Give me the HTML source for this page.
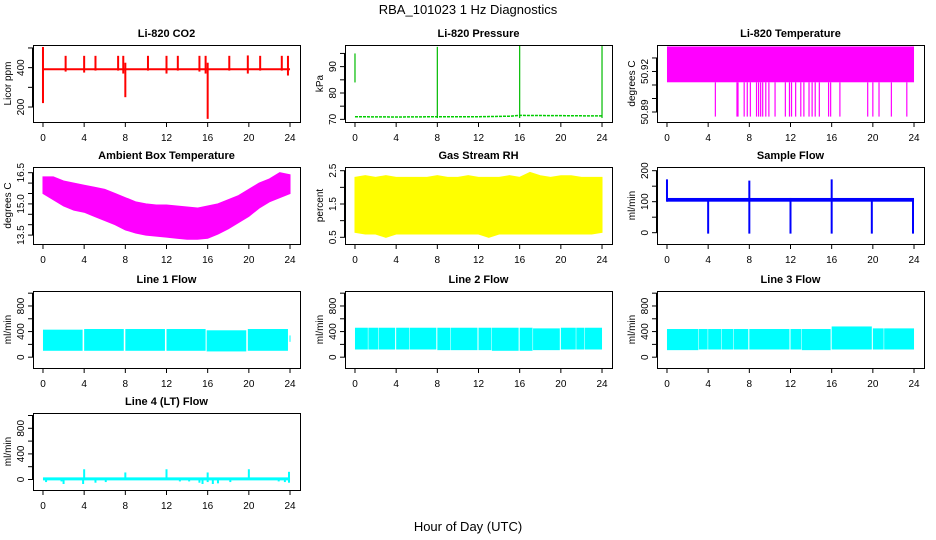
<!DOCTYPE html>
<html><head><meta charset="utf-8">
<style>
html,body{margin:0;padding:0;background:#fff;}
svg{display:block;font-family:"Liberation Sans",Arial,sans-serif;}
</style></head>
<body>
<svg id="chart" width="936" height="540" viewBox="0 0 936 540">
<text x="468" y="14" text-anchor="middle" font-size="13">RBA_101023  1 Hz Diagnostics</text>
<text x="468" y="531" text-anchor="middle" font-size="13">Hour of Day (UTC)</text>
</svg>
<script>
// ---------- data arrays ----------
const xTicks = [0,4,8,12,16,20,24];
const hours = [0,1,2,3,4,5,6,7,8,9,10,11,12,13,14,15,16,17,18,19,20,21,22,23,24];

// CO2
const co2Base = 392;
const co2SpikeX  = [0,2.2,4.0,5.1,7.3,7.8,8.0,10.2,12.0,13.1,15.2,15.8,16.0,18.1,19.9,21.1,23.2,23.8];
const co2SpikeHi = [505,460,460,460,460,460,425,460,460,460,460,460,425,460,462,460,460,460];
const co2SpikeLo = [220,380,375,385,385,370,250,385,370,385,380,370,140,385,370,385,385,360];

// Pressure
const presBaseX = [0,4,8,12,15,16,20,24];
const presBaseY = [71,70.9,71,71,71.2,71.5,71.4,71.3];
const presSpikeX  = [0,8,16,24];
const presSpikeLo = [84,70.5,70.5,70.5];
const presSpikeHi = [95,97.5,98,97.8];

// Li-820 temperature
const ltBandLo = 50.912, ltBandHi = 50.9385;
const ltSpikeX = [4.7,6.8,6.9,7.5,7.8,8.1,8.7,8.9,9.1,9.3,9.6,9.9,10.5,11.5,11.9,12.1,12.5,13.0,13.3,13.8,14.1,14.4,14.8,15.7,15.9,16.8,19.5,20.0,20.6,21.8,23.3];
const ltSpikeLo = 50.8866;

// Ambient box temperature
const ambHi = [16.3,16.3,16.1,16.0,15.9,15.8,15.7,15.5,15.3,15.1,15.0,14.95,14.95,14.9,14.85,14.8,14.9,15.0,15.2,15.4,15.7,16.0,16.2,16.5,16.4];
const ambLo = [15.5,15.2,14.9,14.7,14.6,14.4,14.2,14.0,13.75,13.6,13.5,13.45,13.4,13.35,13.3,13.3,13.35,13.55,13.8,14.1,14.4,14.8,15.1,15.3,15.5];

// Gas stream RH
const rhHi = [2.3,2.35,2.3,2.35,2.3,2.3,2.3,2.3,2.35,2.3,2.3,2.35,2.3,2.3,2.3,2.35,2.3,2.45,2.35,2.3,2.35,2.35,2.3,2.3,2.3];
const rhLo = [0.65,0.6,0.6,0.5,0.6,0.6,0.6,0.6,0.6,0.6,0.6,0.6,0.6,0.5,0.6,0.6,0.6,0.6,0.6,0.6,0.6,0.6,0.6,0.6,0.65];

// Sample flow
const sfBandLo = 100, sfBandHi = 112;
const sfSpikeX  = [0,4,8,12,16,19.9,23.9];
const sfSpikeLo = [100,-3,-3,-3,-3,-3,-3];
const sfSpikeHi = [172,110,168,112,172,110,110];

// Line flows
const l1SegStart = [0,4.0,8.0,12.0,15.9,19.9,23.95];
const l1SegEnd   = [3.85,7.85,11.85,15.8,19.75,23.8,24];
const l1SegHi    = [430,440,440,440,420,440,340];
const l1SegLo    = [100,100,100,100,90,100,240];

const l2SegStart = [0,1.3,2.3,4.0,5.3,8.0,9.3,12.0,13.3,16.0,17.3,20.0,21.5,22.3];
const l2SegEnd   = [1.25,2.25,3.9,5.25,7.9,9.25,11.9,13.25,15.9,17.25,19.9,21.45,22.25,24];
const l2SegHi    = [460,460,460,460,460,460,460,460,460,460,450,460,460,460];
const l2SegLo    = [120,120,120,120,120,110,110,110,100,100,110,120,120,120];

const l3SegStart = [0,3.1,4.0,5.3,6.5,8.0,12.0,13.1,16.0,20.0,21.1];
const l3SegEnd   = [3.05,3.95,5.25,6.45,7.9,11.9,13.05,15.9,19.9,21.05,24];
const l3SegHi    = [440,440,440,440,440,440,440,440,480,450,450];
const l3SegLo    = [110,120,120,120,120,120,120,110,120,120,120];

const l4Base = 10;
const l4SpikeX  = [0.3,1.8,2.0,3.9,4.0,5.1,6.1,8.0,12.0,13.3,14.2,15.2,15.5,16.0,16.5,17.0,18.2,20.0,22.9,23.5,23.9];
const l4SpikeHi = [15,15,15,15,160,15,15,110,160,15,15,15,15,110,15,15,15,160,15,15,120];
const l4SpikeLo = [-40,-30,-70,-70,0,-50,-40,0,0,-30,-30,-50,-70,-40,-70,-60,-40,0,-30,-40,-50];

// ---------- layout ----------
const svg = document.getElementById('chart');
const NS = 'http://www.w3.org/2000/svg';
const colLeft = [33,345,657];
const rowTop = [45,167,291,413];
const BW = 267, BH = 77;
const XDOM = [-0.97, 24.97];

function mk(tag, attrs, parent){
  const e = document.createElementNS(NS, tag);
  for (const k in attrs) e.setAttribute(k, attrs[k]);
  (parent||svg).appendChild(e);
  return e;
}

function panel(c, r, title, ylab, ydom, yticks, ylabels){
  const L = colLeft[c], T = rowTop[r];
  const g = mk('g', {});
  
  
  const sx = v => L + (v - XDOM[0]) / (XDOM[1]-XDOM[0]) * BW;
  const sy = v => T + (ydom[1] - v) / (ydom[1]-ydom[0]) * BH;
  const t = mk('text', {x: L+BW/2, y: T-8, 'text-anchor':'middle', 'font-size':11, 'font-weight':'bold'}, g);
  t.textContent = title;
  
  
  const yl = mk('text', {x:0, y:0, 'text-anchor':'middle', 'font-size':10, transform:`translate(${L-22},${T+BH/2}) rotate(-90)`}, g);
  yl.textContent = ylab;
  
  
  const plot = mk('g', {}, g);
  
  
  const xa = mk('g', {}, g);
  
  
  mk('line', {x1:sx(xTicks[0]), x2:sx(xTicks[xTicks.length-1]), y1:T+BH+0.5, y2:T+BH+0.5, stroke:'#000'}, xa);
  xTicks.forEach(v=>{
    mk('line', {x1:sx(v), x2:sx(v), y1:T+BH, y2:T+BH+5, stroke:'#000'}, xa);
    const tx = mk('text', {x:sx(v), y:T+BH+19, 'text-anchor':'middle', 'font-size':10}, xa);
    tx.textContent = v;
    
    
  });
  const ya = mk('g', {}, g);
  
  
  yticks.forEach((v,i)=>{
    mk('line', {x1:L-5, x2:L, y1:sy(v), y2:sy(v), stroke:'#000'}, ya);
    if (ylabels[i]) {
      const ty = mk('text', {x:0, y:0, 'text-anchor':'middle', 'font-size':10, transform:`translate(${L-9},${sy(v)}) rotate(-90)`}, ya);
      ty.textContent = ylabels[i];
      
      
    }
  });
  mk('line', {x1:L-0.5, x2:L-0.5, y1:sy(yticks[0]), y2:sy(yticks[yticks.length-1]), stroke:'#000'}, ya);
  const box = mk('rect', {x:L+0.5, y:T+0.5, width:BW, height:BH, fill:'none', stroke:'#000'}, g);
  
  
  return {sx, sy, plot};
}

function vline(p, x, lo, hi, col, w){
  const e = mk('line', {x1:p.sx(x), x2:p.sx(x), y1:p.sy(lo), y2:p.sy(hi), stroke:col, 'stroke-width':w||1.5}, p.plot);
  
  
}
function band(p, xs, hi, lo, col, name){
  let d = 'M' + xs.map((x,i)=>p.sx(x)+','+p.sy(hi[i])).join('L');
  for (let i=xs.length-1;i>=0;i--) d += 'L' + p.sx(xs[i]) + ',' + p.sy(lo[i]);
  const e = mk('path', {d: d+'Z', fill:col, stroke:col}, p.plot);
  
  
}
function rectBand(p, x0, x1, lo, hi, col, name){
  const e = mk('rect', {x:p.sx(x0), y:p.sy(hi), width:Math.max(1,p.sx(x1)-p.sx(x0)), height:p.sy(lo)-p.sy(hi), fill:col}, p.plot);
  
  
}
function hline(p, x0, x1, y, col, w, name){
  const e = mk('line', {x1:p.sx(x0), x2:p.sx(x1), y1:p.sy(y), y2:p.sy(y), stroke:col, 'stroke-width':w}, p.plot);
  
  
}

let p = panel(0,0,'Li-820 CO2','Licor ppm',[124,515],[200,300,400,500],['200','','400','']);
hline(p,0,24,co2Base,'#ff0000',2,'co2-baseline');
co2SpikeX.forEach((x,i)=>vline(p,x,co2SpikeLo[i],co2SpikeHi[i],'#ff0000',2));

p = panel(1,0,'Li-820 Pressure','kPa',[69.0,98.2],[70,75,80,85,90,95],['70','','80','','90','']);
{
  const e = mk('polyline', {points: presBaseX.map((x,i)=>p.sx(x)+','+p.sy(presBaseY[i])).join(' '), fill:'none', stroke:'#00cc00', 'stroke-width':1.5, 'stroke-dasharray':'3 1'}, p.plot);
  
  
}
presSpikeX.forEach((x,i)=>vline(p,x,presSpikeLo[i],presSpikeHi[i],'#00bb00',1.2));

p = panel(2,0,'Li-820 Temperature','degrees C',[50.8826,50.9396],[50.89,50.90,50.91,50.92,50.93],['50.89','','','50.92','']);
rectBand(p,0,24,ltBandLo,ltBandHi,'#ff00ff','temperature-band');
ltSpikeX.forEach(x=>vline(p,x,ltSpikeLo,ltBandLo,'#ff00ff',1.2));

p = panel(0,1,'Ambient Box Temperature','degrees C',[13.072,16.774],[13.5,14,14.5,15,15.5,16,16.5],['13.5','','','15.0','','','16.5']);
band(p,hours,ambHi,ambLo,'#ff00ff','ambient-band');

p = panel(1,1,'Gas Stream RH','percent',[0.299,2.611],[0.5,1,1.5,2,2.5],['0.5','','1.5','','2.5']);
band(p,hours,rhHi,rhLo,'#ffff00','rh-band');

p = panel(2,1,'Sample Flow','ml/min',[-36.5,211.9],[0,50,100,150,200],['0','','100','','200']);
rectBand(p,0,24,sfBandLo,sfBandHi,'#0000ff','sample-flow-band');
sfSpikeX.forEach((x,i)=>vline(p,x,sfSpikeLo[i],sfSpikeHi[i],'#0000ff',2));

const flowTicks = [0,200,400,600,800,1000], flowLabels = ['0','','400','','800',''];
p = panel(0,2,'Line 1 Flow','ml/min',[-169,1034],flowTicks,flowLabels);
l1SegStart.forEach((s,i)=>rectBand(p,s,l1SegEnd[i],l1SegLo[i],l1SegHi[i],'#00ffff','line1-segment'));
p = panel(1,2,'Line 2 Flow','ml/min',[-169,1034],flowTicks,flowLabels);
l2SegStart.forEach((s,i)=>rectBand(p,s,l2SegEnd[i],l2SegLo[i],l2SegHi[i],'#00ffff','line2-segment'));
p = panel(2,2,'Line 3 Flow','ml/min',[-169,1034],flowTicks,flowLabels);
l3SegStart.forEach((s,i)=>rectBand(p,s,l3SegEnd[i],l3SegLo[i],l3SegHi[i],'#00ffff','line3-segment'));
p = panel(0,3,'Line 4 (LT) Flow','ml/min',[-164,1039],flowTicks,flowLabels);
hline(p,0,24,l4Base,'#00ffff',3,'line4-baseline');
l4SpikeX.forEach((x,i)=>vline(p,x,l4SpikeLo[i],l4SpikeHi[i],'#00ffff',2));
</script>
</body></html>
